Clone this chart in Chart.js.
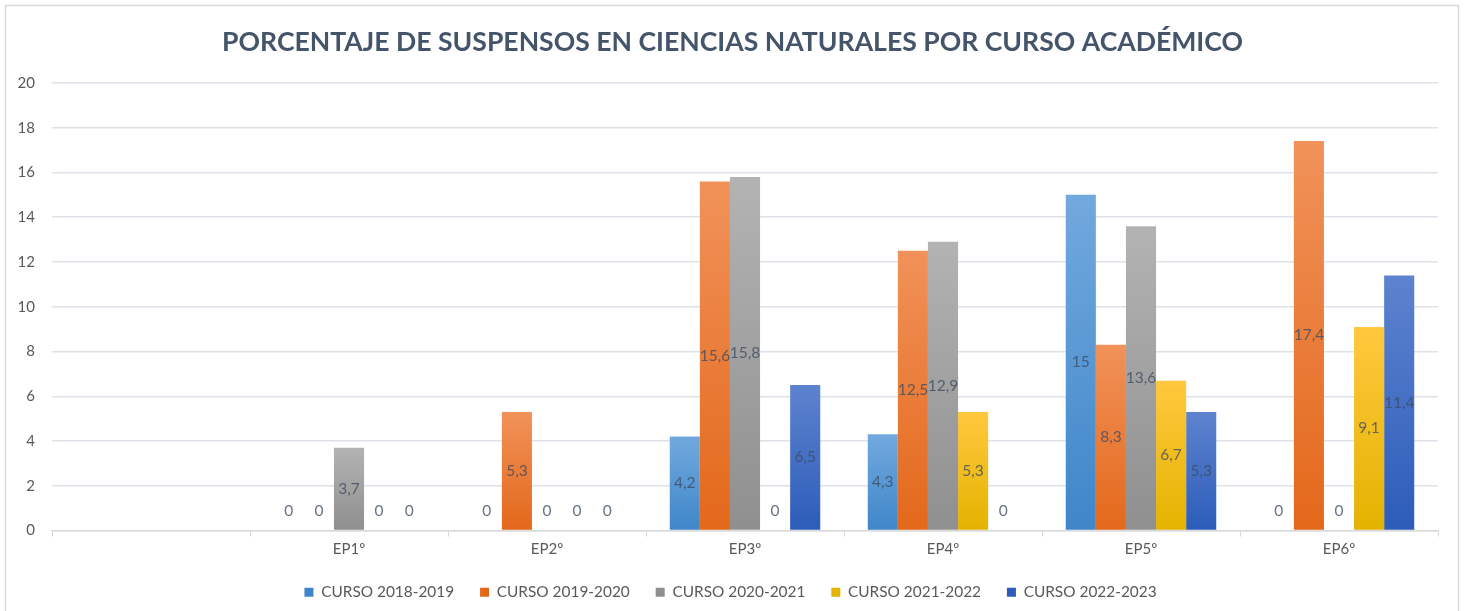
<!DOCTYPE html>
<html>
<head>
<meta charset="utf-8">
<script src="https://cdn.jsdelivr.net/npm/chart.js@4.4.1/dist/chart.umd.min.js"></script>
<style>
  html, body { margin: 0; padding: 0; background: #fff; }
  #wrap { width: 1465px; height: 611px; position: relative; }
</style>
</head>
<body>
<div id="wrap"><canvas id="myChart" width="1465" height="611"></canvas></div>
<script>
    // Datos
    const cursos = ['', 'EP1º', 'EP2º', 'EP3º', 'EP4º', 'EP5º', 'EP6º'];
    const curso1819 = [null, 0, 0, 4.2, 4.3, 15, 0];
    const curso1920 = [null, 0, 5.3, 15.6, 12.5, 8.3, 17.4];
    const curso2021 = [null, 3.7, 0, 15.8, 12.9, 13.6, 0];
    const curso2122 = [null, 0, 0, 0, 5.3, 6.7, 9.1];
    const curso2223 = [null, 0, 0, 6.5, 0, 5.3, 11.4];
    const nombres = ['CURSO 2018-2019', 'CURSO 2019-2020', 'CURSO 2020-2021', 'CURSO 2021-2022', 'CURSO 2022-2023'];
    const ticksY = [0, 2, 4, 6, 8, 10, 12, 14, 16, 18, 20];

    // colores arriba / abajo del degradado de cada serie
    const colores = [
        ['#72a9de', '#3f86c9'],
        ['#f1925a', '#e3681a'],
        ['#b3b3b3', '#8f8f8f'],
        ['#ffc83e', '#e3b300'],
        ['#5e83cf', '#2c5cb9']
    ];

    const degradado = (i) => (c) => {
        const chart = c.chart;
        if (!chart.chartArea || !chart.scales.y) return colores[i][1];
        const v = c.raw || 0;
        const y = chart.scales.y;
        const top = y.getPixelForValue(v);
        const base = y.getPixelForValue(0);
        if (base - top < 1) return colores[i][1];
        const g = chart.ctx.createLinearGradient(0, top, 0, base);
        g.addColorStop(0, colores[i][0]);
        g.addColorStop(1, colores[i][1]);
        return g;
    };

    const series = [curso1819, curso1920, curso2021, curso2122, curso2223];

    // Fondo y marco del gráfico
    const marco = {
        id: 'marco',
        beforeDraw(chart) {
            const c = chart.ctx;
            c.save();
            c.fillStyle = '#fff';
            c.fillRect(0, 0, chart.width, chart.height);
            c.strokeStyle = '#d9d9d9';
            c.lineWidth = 1.5;
            c.strokeRect(5.5, 5.5, 1453, 620);
            c.restore();
        }
    };

    // Etiquetas de datos en el centro de cada barra
    const etiquetas = {
        id: 'etiquetas',
        afterDatasetsDraw(chart) {
            const c = chart.ctx;
            c.save();
            c.font = '15.5px Lato';
            c.fillStyle = 'rgba(60, 76, 98, 0.78)';
            c.textAlign = 'center';
            c.textBaseline = 'middle';
            chart.data.datasets.forEach((ds, i) => {
                const meta = chart.getDatasetMeta(i);
                meta.data.forEach((bar, j) => {
                    const v = ds.data[j];
                    if (v === null || v === undefined) return;
                    let y = v === 0 ? bar.base - 20 : (bar.y + bar.base) / 2;
                    c.fillText(String(v).replace('.', ','), bar.x, y);
                });
            });
            c.restore();
        }
    };

    const ctx = document.getElementById('myChart').getContext('2d');
    const myChart = new Chart(ctx, {
        type: 'bar',
        data: {
            labels: cursos,
            datasets: series.map((d, i) => ({
                label: nombres[i],
                data: d,
                backgroundColor: degradado(i),
                borderWidth: 0,
                categoryPercentage: 0.76,
                barPercentage: 1
            }))
        },
        options: {
            responsive: false,
            animation: false,
            layout: { padding: { left: 0, right: 0, top: 0, bottom: 1 } },
            plugins: {
                title: {
                    display: true,
                    text: 'PORCENTAJE DE SUSPENSOS EN CIENCIAS NATURALES POR CURSO ACADÉMICO',
                    color: '#44546a',
                    font: { family: 'Lato', size: 26.6, weight: 'bold' },
                    padding: { top: 26, bottom: 25 }
                },
                legend: {
                    position: 'bottom',
                    labels: {
                        color: '#595959',
                        font: { family: 'Lato', size: 15.4 },
                        boxWidth: 9,
                        boxHeight: 9,
                        padding: 22,
                        generateLabels: (chart) => nombres.map((n, i) => ({
                            text: n + ' ',
                            fillStyle: colores[i][1],
                            strokeStyle: colores[i][1],
                            lineWidth: 0,
                            datasetIndex: i,
                            fontColor: '#595959'
                        }))
                    }
                },
                tooltip: { enabled: false }
            },
            scales: {
                x: {
                    grid: {
                        drawOnChartArea: false,
                        drawTicks: true,
                        tickLength: 6,
                        color: '#d9d9d9'
                    },
                    border: { color: '#d9d9d9', width: 1.5 },
                    ticks: {
                        color: '#595959',
                        font: { family: 'Lato', size: 15 },
                        padding: 4
                    }
                },
                y: {
                    min: 0,
                    max: 20,
                    afterFit: (s) => { s.width = 52; },
                    afterBuildTicks: (s) => { s.ticks = ticksY.map(v => ({ value: v })); },
                    grid: { color: '#dde2e8', lineWidth: 1.5, drawTicks: false },
                    border: { display: false },
                    ticks: {
                        color: '#595959',
                        font: { family: 'Lato', size: 15 },
                        padding: 17
                    }
                },
                // eje vacío a la derecha para dejar el margen
                yDerecha: {
                    position: 'right',
                    min: 0,
                    max: 20,
                    afterFit: (s) => { s.width = 27; },
                    grid: { display: false },
                    border: { display: false },
                    ticks: { display: false }
                }
            }
        },
        plugins: [marco, etiquetas]
    });
</script>
</body>
</html>
